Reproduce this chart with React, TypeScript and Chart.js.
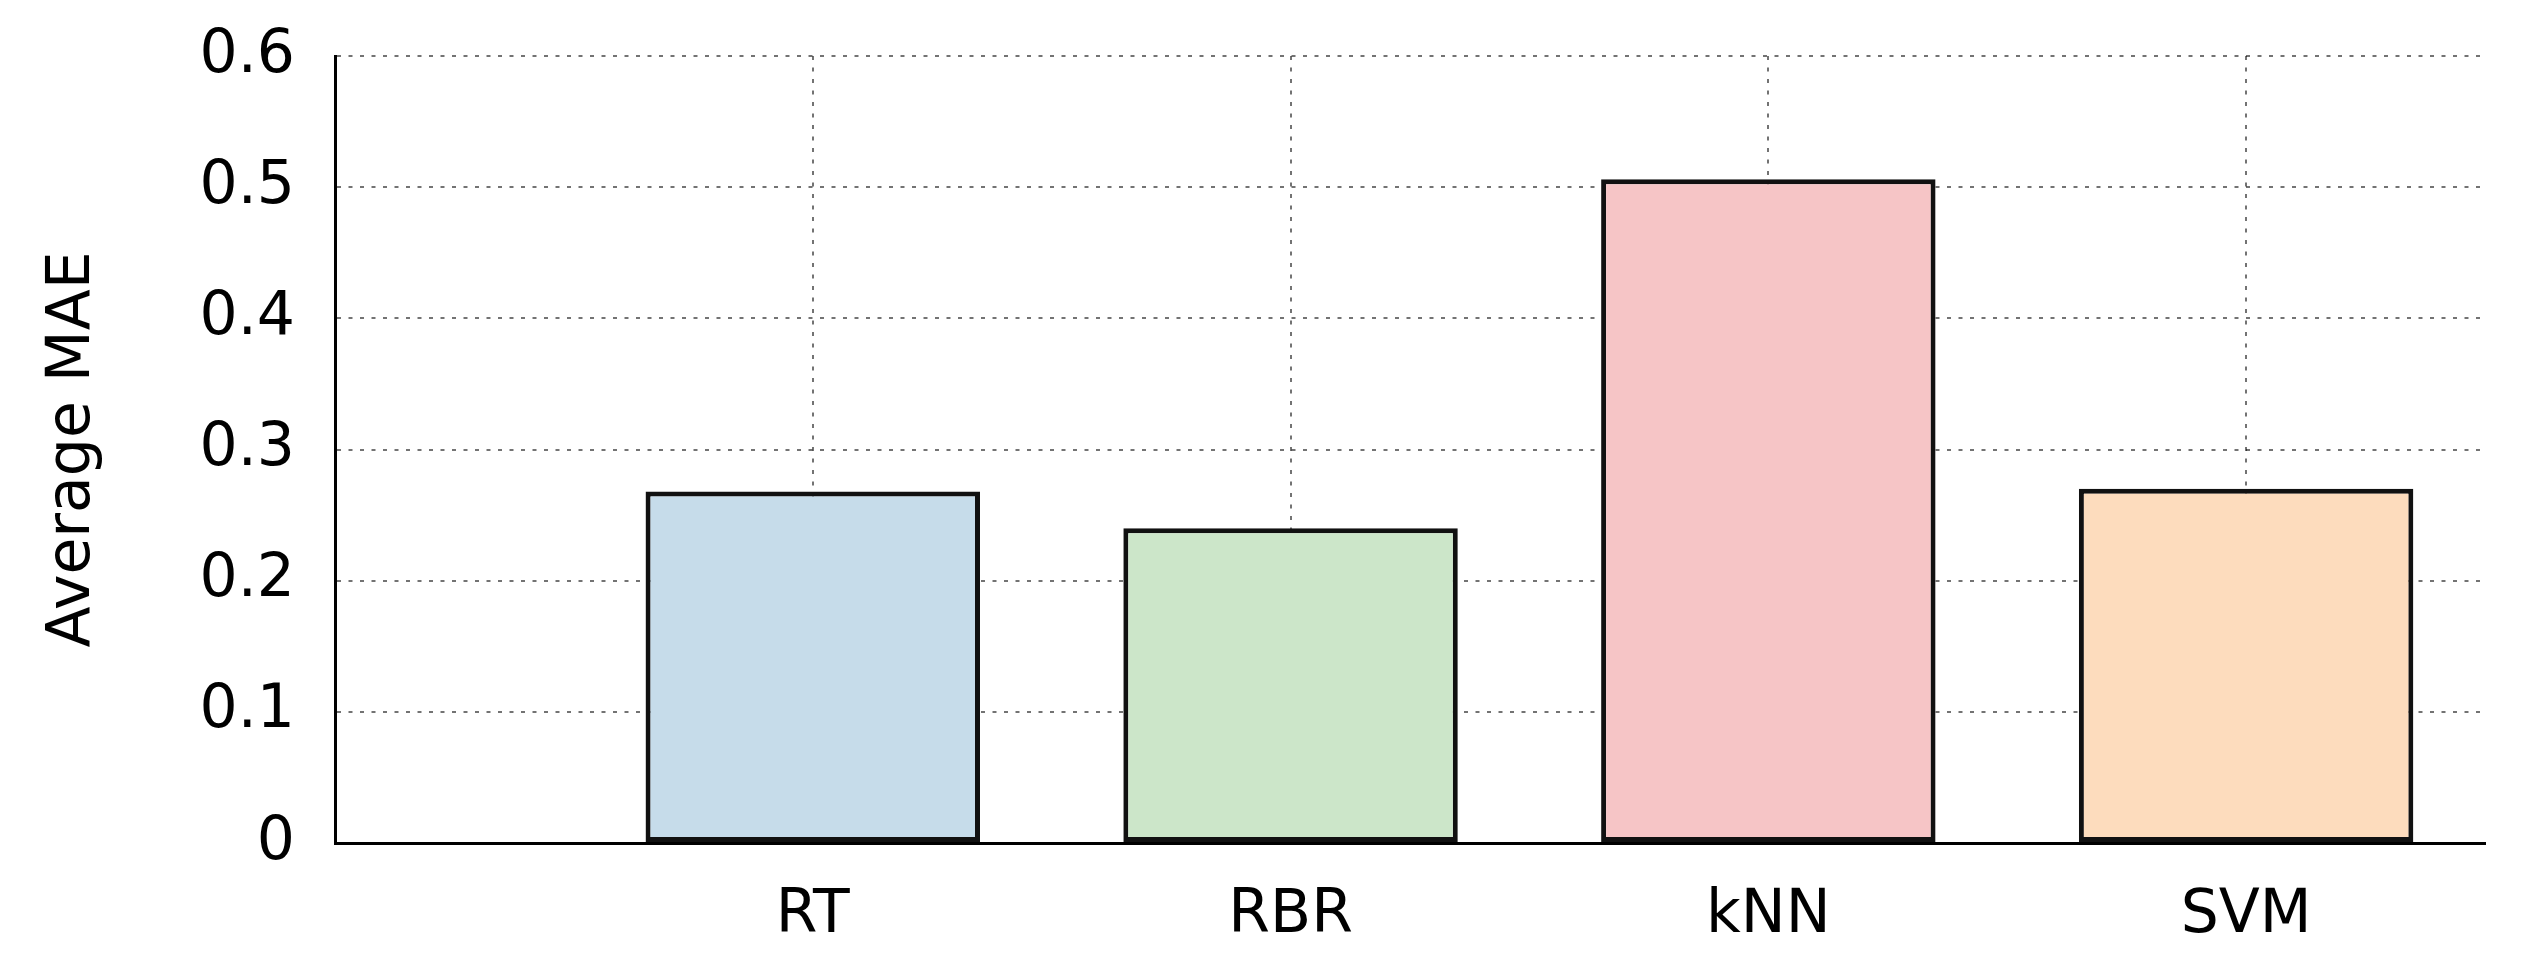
import React, { useEffect, useRef } from 'react';
import { Chart, registerables } from 'chart.js';

Chart.register(...registerables);

const categories = ['RT', 'RBR', 'kNN', 'SVM'];
const categoryPositions = [1, 2, 3, 4];
const averageMAE = [0.268, 0.24, 0.506, 0.27];
const barColors = ['#c6dcea', '#cce6c9', '#f6c5c6', '#fddcbd'];
const yTicks = [0, 0.1, 0.2, 0.3, 0.4, 0.5, 0.6];
const yAxisTitle = 'Average MAE';

export default function App() {
  const ref = useRef<HTMLCanvasElement>(null);

  useEffect(() => {
    document.body.style.margin = '0';
    const canvas = ref.current;
    if (!canvas) return;
    const font = { family: '"DejaVu Sans", sans-serif', size: 60 };
    const gridColor = 'rgba(0,0,0,0.55)';
    const chart = new Chart(canvas, {
      type: 'bar',
      data: {
        datasets: [
          {
            data: categoryPositions.map((x, i) => ({ x, y: averageMAE[i] })),
            backgroundColor: barColors,
            borderColor: '#111111',
            borderWidth: 5,
            borderSkipped: false,
            barPercentage: 0.7,
            categoryPercentage: 1,
          } as any,
        ],
      },
      options: {
        animation: false,
        responsive: false,
        devicePixelRatio: 1,
        layout: { padding: { left: 0, right: 36, top: 56, bottom: 0 } },
        plugins: { legend: { display: false }, tooltip: { enabled: false } },
        scales: {
          x: {
            type: 'linear',
            min: 0,
            max: 4.5,
            offset: false,
            grid: { offset: false, color: gridColor, lineWidth: 2, drawTicks: false },
            border: { display: true, color: '#000000', width: 3, dash: [4, 7.5] },
            afterBuildTicks: (s: any) => {
              s.ticks = categoryPositions.map((v) => ({ value: v }));
            },
            afterFit: (s: any) => {
              s.height = 127;
              s.paddingLeft = 0;
              s.paddingRight = 0;
              s.paddingTop = 0;
              s.paddingBottom = 0;
            },
            ticks: {
              font,
              color: '#000000',
              padding: 37,
              autoSkip: false,
              maxRotation: 0,
              callback: (v: any) => {
                const i = categoryPositions.indexOf(Number(v));
                return i >= 0 ? categories[i] : '';
              },
            },
          },
          y: {
            type: 'linear',
            min: 0,
            max: 0.6,
            grid: { color: gridColor, lineWidth: 2, drawTicks: false },
            border: { display: true, color: '#000000', width: 3, dash: [4, 7.5] },
            afterBuildTicks: (s: any) => {
              s.ticks = yTicks.map((v) => ({ value: v }));
            },
            afterFit: (s: any) => {
              s.width = 335;
              s.paddingLeft = 0;
              s.paddingRight = 0;
              s.paddingTop = 0;
              s.paddingBottom = 0;
            },
            ticks: {
              font,
              color: '#000000',
              padding: 40,
              callback: (v: any) => (Number(v) === 0 ? '0' : Number(v).toFixed(1)),
            },
            title: {
              display: true,
              text: yAxisTitle,
              font,
              color: '#000000',
              padding: { top: 37, bottom: 0 },
            },
          },
        },
      },
    } as any);
    return () => chart.destroy();
  }, []);

  return <canvas ref={ref} width={2521} height={970} style={{ display: 'block' }} />;
}
